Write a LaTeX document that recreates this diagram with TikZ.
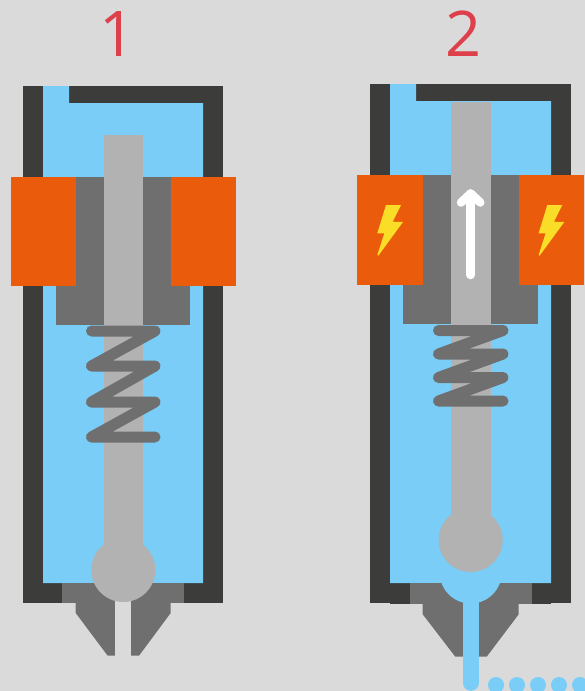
\documentclass[tikz,border=0pt]{standalone}
\usepackage{fontspec}
\setmainfont{Open Sans}
\definecolor{bgcol}{HTML}{DADADA}
\definecolor{wallcol}{HTML}{3C3C3B}
\definecolor{fluidcol}{HTML}{7ACDF6}
\definecolor{coilcol}{HTML}{EA5B0C}
\definecolor{corecol}{HTML}{706F6F}
\definecolor{rodcol}{HTML}{B2B2B2}
\definecolor{boltcol}{HTML}{F9DD26}
\definecolor{titlecol}{HTML}{DE404B}
\tikzset{
  wall/.style={fill=wallcol},
  fluid/.style={fill=fluidcol},
  coil/.style={fill=coilcol},
  core/.style={fill=corecol},
  rod/.style={fill=rodcol},
  bolt/.style={fill=boltcol},
  spring/.style={draw=corecol, line width=11pt, line cap=round, line join=round},
  title/.style={text=titlecol, font=\fontsize{63}{63}\selectfont, inner sep=0pt},
}

\begin{document}
\begin{tikzpicture}[x=1pt, y=-1pt]
  \clip (0,0) rectangle (585,691);
  \fill[bgcol] (0,0) rectangle (585,691);

  % Titles
  \node[title] (title1) at (118,34) {1};
  \node[title] (title2) at (464,34) {2};

  % Closed valve: housing and fluid
  \fill[wall] (23,86) rectangle (223,603);
  \fill[fluid] (43,86) -- (69,86) -- (69,103) -- (203,103) -- (203,583) -- (43,583) -- cycle;

  % Closed valve: nozzle
  \fill[core] (62,583) rectangle (184,603);
  \fill[core] (75.7,583) -- (170.7,583) -- (170.7,613) -- (139,655.7) -- (107.7,655.7) -- (75.7,613) -- cycle;
  \fill[bgcol] (115.3,590) rectangle (131,656);

  % Closed valve: core, rod, ball
  \fill[core] (56,177) rectangle (190,325);
  \fill[rod] (104,135) rectangle (143,560);
  \fill[rod] (123.3,570) circle (32);

  % Closed valve: spring
  \draw[spring] (91.5,331) -- (155,331) -- (91.5,366) -- (155,366) -- (91.5,402) -- (155,402) -- (91.5,437) -- (155,437);

  % Closed valve: coils
  \fill[coil] (10.5,177) rectangle (75.5,286);
  \fill[coil] (171,177) rectangle (236,286);

  % Open valve: housing and fluid
  \fill[wall] (370,84) rectangle (571,603);
  \fill[wall] (390,583) rectangle (551,604);
  \fill[fluid] (390,84) -- (416,84) -- (416,101) -- (551,101) -- (551,583) -- (390,583) -- cycle;

  % Open valve: nozzle
  \fill[core] (410,583) rectangle (532,604);
  \fill[core] (422.7,583) -- (518.7,583) -- (518.7,614.3) -- (486.7,656.7) -- (455.3,656.7) -- (422.7,614.3) -- cycle;
  \fill[fluid] (470.7,572.5) circle (31);
  \draw[fluidcol, line width=15.7pt, line cap=round] (470.8,590) -- (470.8,683);
  \foreach \x in {496,517,538,559,580}
    \fill[fluid] (\x,685) circle (8);

  % Open valve: core, rod, ball
  \fill[core] (403,175) rectangle (538,324);
  \fill[rod] (451,101.7) rectangle (491,530);
  \fill[rod] (470.7,540) circle (32);

  % Open valve: spring
  \draw[spring] (438.5,330.5) -- (503,330.5) -- (438.5,354) -- (503,354) -- (438.5,377.5) -- (503,377.5) -- (438.5,401) -- (503,401);

  % Open valve: coils with bolts
  \fill[coil] (357.3,175.3) rectangle (422.7,285);
  \fill[coil] (519,175.3) rectangle (584,285);
  \foreach \dx in {0,161.3}
    \fill[bolt, xshift=\dx] (386,205) -- (401,205) -- (392.7,221.7) -- (403,222) -- (378.3,255.7) -- (377.3,255) -- (384.3,233.3) -- (377.3,233.3) -- cycle;

  % Lift arrow
  \draw[white, line width=8.5pt, line cap=round, line join=round] (470.7,275) -- (470.7,193.5);
  \draw[white, line width=8.5pt, line cap=round, line join=round] (461,202.5) -- (470.7,193.5) -- (480.3,202.5);
\end{tikzpicture}
\end{document}
